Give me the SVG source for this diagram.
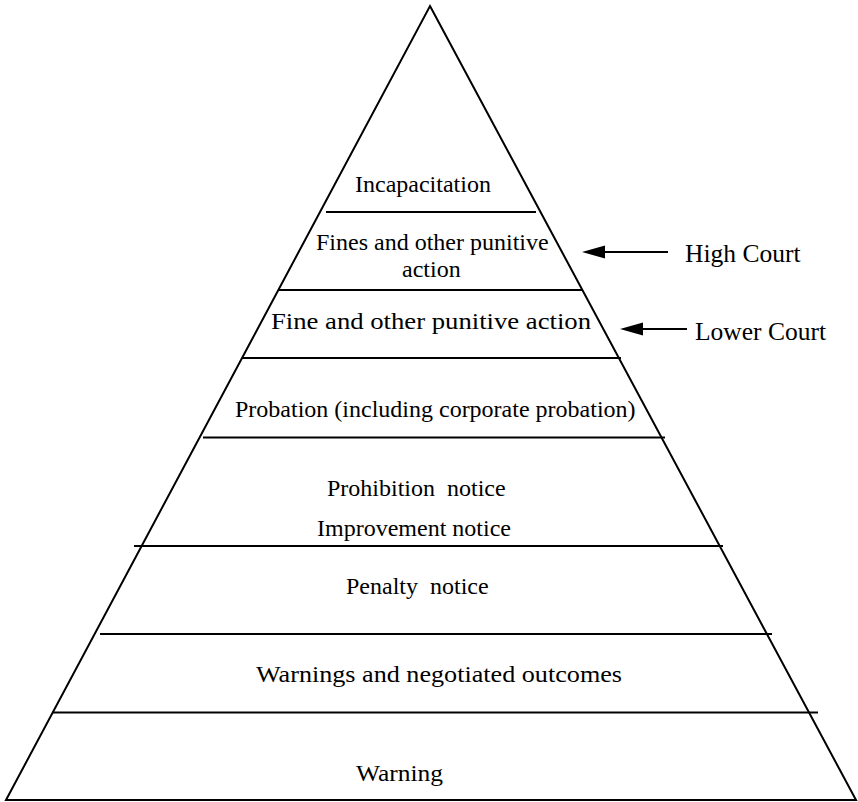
<svg xmlns="http://www.w3.org/2000/svg" width="858" height="802" viewBox="0 0 858 802">
<style>
.ln{stroke:#000;stroke-width:2;fill:none}
.t{font-family:"Liberation Serif","Times New Roman",serif;font-size:24px;fill:#000;white-space:pre}
.c{font-family:"Liberation Serif","Times New Roman",serif;font-size:25.5px;fill:#000}
.ah{fill:#000;stroke:none}
</style>
<rect width="858" height="802" fill="#fff"/>
<g id="pyramid">
<polygon class="ln" points="430,6 856,800 6,800"/>
</g>
<g id="dividers">
<line class="ln" x1="326" y1="212" x2="536" y2="212"/>
<line class="ln" x1="278" y1="290" x2="583" y2="290"/>
<line class="ln" x1="242" y1="358" x2="621" y2="358"/>
<line class="ln" x1="203" y1="437.5" x2="665" y2="437.5"/>
<line class="ln" x1="134" y1="546" x2="723" y2="546"/>
<line class="ln" x1="100" y1="634" x2="772" y2="634"/>
<line class="ln" x1="52" y1="712.5" x2="818" y2="712.5"/>
</g>
<g id="tier-incapacitation"><text class="t" x="355" y="192">Incapacitation</text></g>
<g id="tier-fines-high"><text class="t" x="316" y="250">Fines and other punitive</text><text class="t" x="402" y="277">action</text></g>
<g id="tier-fine-lower"><text class="t" x="271" y="329" textLength="320" lengthAdjust="spacingAndGlyphs">Fine and other punitive action</text></g>
<g id="tier-probation"><text class="t" x="235" y="417">Probation (including corporate probation)</text></g>
<g id="tier-notices"><text class="t" x="327" y="496" xml:space="preserve">Prohibition  notice</text><text class="t" x="317" y="536">Improvement notice</text></g>
<g id="tier-penalty"><text class="t" x="346" y="594" xml:space="preserve">Penalty  notice</text></g>
<g id="tier-warnings-negotiated"><text class="t" x="256" y="682" textLength="366" lengthAdjust="spacingAndGlyphs">Warnings and negotiated outcomes</text></g>
<g id="tier-warning"><text class="t" x="356" y="781" textLength="87" lengthAdjust="spacingAndGlyphs">Warning</text></g>
<g id="label-high-court"><text class="c" x="685" y="262">High Court</text></g>
<g id="label-lower-court"><text class="c" x="695" y="340">Lower Court</text></g>
<g id="connectors">
<line class="ln" x1="668" y1="252" x2="600" y2="252"/>
<polygon class="ah" points="582,252 605,245.5 605,258.5"/>
<line class="ln" x1="687" y1="329" x2="638" y2="329"/>
<polygon class="ah" points="620,329 643,322.5 643,335.5"/>
</g>
</svg>
